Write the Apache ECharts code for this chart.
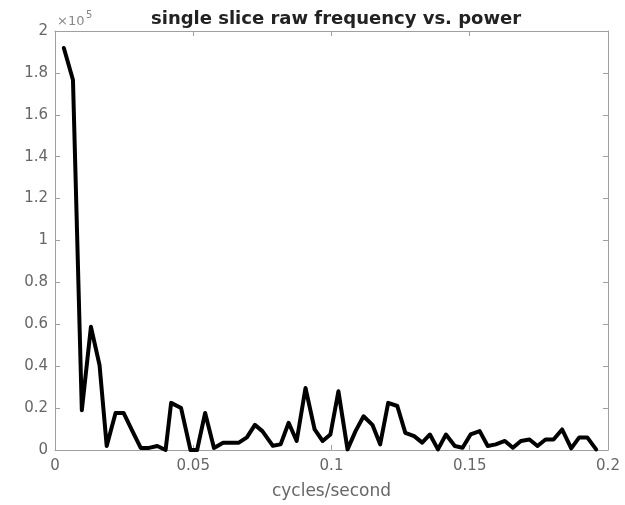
<!DOCTYPE html>
<html><head><meta charset="utf-8">
<script src="https://cdn.jsdelivr.net/npm/echarts@6/dist/echarts.min.js"></script>
<style>html,body{margin:0;padding:0;background:#fff}#c{width:625px;height:505px}</style>
</head><body><div id="c"></div>
<script>
const titleText = 'single slice raw frequency vs. power';
const xLabel = 'cycles/second';
const xTicks = [0, 0.05, 0.1, 0.15, 0.2];
const yTicks = [0, 0.2, 0.4, 0.6, 0.8, 1, 1.2, 1.4, 1.6, 1.8, 2];
const yScaleExp = 5;
const freq = [0.0032,0.0065,0.0097,0.0130,0.0161,0.0187,0.0219,0.0248,0.0280,0.0310,0.0340,0.0370,0.0400,0.0420,0.0456,0.0490,0.0514,0.0543,0.0575,0.0608,0.0636,0.0665,0.0694,0.0723,0.0750,0.0788,0.0816,0.0845,0.0874,0.0906,0.0939,0.0968,0.0996,0.1025,0.1058,0.1087,0.1116,0.1148,0.1176,0.1205,0.1238,0.1267,0.1299,0.1328,0.1356,0.1385,0.1414,0.1446,0.1474,0.1503,0.1536,0.1565,0.1594,0.1627,0.1656,0.1685,0.1716,0.1745,0.1774,0.1803,0.1834,0.1867,0.1896,0.1925,0.1957];
const power = [1.919,1.766,0.19,0.588,0.406,0.019,0.177,0.177,0.09,0.01,0.01,0.019,0.0,0.225,0.20,0.0,0.0,0.177,0.01,0.035,0.035,0.035,0.06,0.12,0.09,0.02,0.027,0.13,0.043,0.296,0.098,0.043,0.074,0.28,0.003,0.09,0.161,0.12,0.027,0.225,0.21,0.082,0.066,0.035,0.074,0.003,0.074,0.019,0.011,0.074,0.09,0.019,0.027,0.043,0.011,0.043,0.05,0.019,0.05,0.05,0.098,0.008,0.06,0.06,0.003];

const chart = echarts.init(document.getElementById('c'));
const scale = Math.pow(10, yScaleExp);
const data = freq.map((f, i) => [f, power[i] * scale]);
const font = 'DejaVu Sans';
const axisCol = '#a0a0a0';
const lblCol = '#666';
const fmtY = v => String(+(v / scale).toFixed(2));
const fmtX = v => String(+v.toFixed(3));
const boxAxis = {
  axisLine: { show: true, onZero: false, lineStyle: { color: axisCol, width: 1 } },
  axisTick: { show: true, inside: true, length: 5, lineStyle: { color: axisCol } },
  splitLine: { show: false }
};
chart.setOption({
  animation: false,
  title: {
    text: titleText, left: 146, top: 5,
    textStyle: { fontFamily: font, fontSize: 18, fontWeight: 'bold', color: '#222' }
  },
  graphic: [{
    type: 'text', left: 57, top: 15,
    style: { text: '\u00d710', font: '13px "DejaVu Sans"', fill: '#888' }
  }, {
    type: 'text', left: 86, top: 10,
    style: { text: String(yScaleExp), font: '10px "DejaVu Sans"', fill: '#888' }
  }],
  grid: { left: 55, right: 17, top: 31, bottom: 53 },
  xAxis: [Object.assign({
    type: 'value', min: xTicks[0], max: xTicks[xTicks.length - 1], interval: xTicks[1] - xTicks[0],
    name: xLabel, nameLocation: 'middle', nameGap: 33,
    nameTextStyle: { fontFamily: font, fontSize: 17, color: lblCol },
    axisLabel: { fontFamily: font, fontSize: 15, color: lblCol, margin: 9, formatter: fmtX }
  }, boxAxis), Object.assign({
    type: 'value', position: 'top', min: xTicks[0], max: xTicks[xTicks.length - 1], interval: xTicks[1] - xTicks[0],
    axisLabel: { show: false }
  }, boxAxis)],
  yAxis: [Object.assign({
    type: 'value', min: yTicks[0] * scale, max: yTicks[yTicks.length - 1] * scale, interval: (yTicks[1] - yTicks[0]) * scale,
    axisLabel: { fontFamily: font, fontSize: 15, color: lblCol, margin: 7, formatter: fmtY }
  }, boxAxis), Object.assign({
    type: 'value', position: 'right', min: yTicks[0] * scale, max: yTicks[yTicks.length - 1] * scale, interval: (yTicks[1] - yTicks[0]) * scale,
    axisLabel: { show: false }
  }, boxAxis)],
  series: [{
    type: 'line', data: data, xAxisIndex: 0, yAxisIndex: 0,
    showSymbol: false, symbol: 'none',
    lineStyle: { color: '#000', width: 4, join: 'round', cap: 'round' }
  }]
});
</script></body></html>
